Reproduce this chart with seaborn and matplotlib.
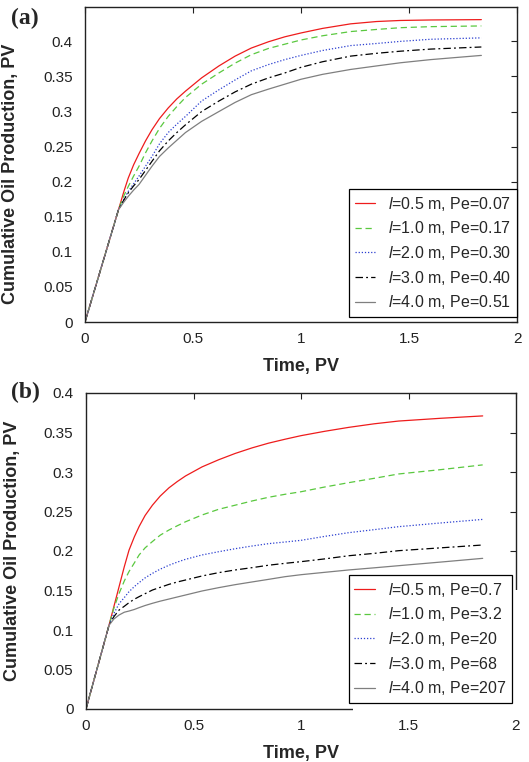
import matplotlib
matplotlib.use("Agg")
import matplotlib.pyplot as plt
from matplotlib.patches import Rectangle
import seaborn as sns
import pandas as pd
import numpy as np

# Data

time_a = [0, 0.155, 0.18, 0.2, 0.225, 0.25, 0.28, 0.31, 0.345, 0.385, 0.425, 0.465, 0.54, 0.62,
          0.695, 0.77, 0.85, 0.925, 1.0, 1.1, 1.23, 1.35, 1.46, 1.6, 1.835]
oil_a = {
    "red":   [0, 0.16, 0.186, 0.205, 0.224, 0.24, 0.258, 0.274, 0.29, 0.305, 0.318, 0.329, 0.348, 0.365,
              0.379, 0.3905, 0.3995, 0.4065, 0.412, 0.4185, 0.425, 0.4283, 0.4298, 0.4305, 0.431],
    "green": [0, 0.16, 0.18, 0.193, 0.208, 0.222, 0.241, 0.258, 0.276, 0.293, 0.307, 0.320, 0.339, 0.355,
              0.369, 0.381, 0.390, 0.396, 0.402, 0.408, 0.414, 0.417, 0.4195, 0.421, 0.422],
    "blue":  [0, 0.16, 0.175, 0.186, 0.197, 0.208, 0.222, 0.236, 0.254, 0.270, 0.282, 0.293, 0.315, 0.331,
              0.345, 0.358, 0.367, 0.374, 0.380, 0.387, 0.394, 0.397, 0.400, 0.403, 0.405],
    "black": [0, 0.16, 0.174, 0.184, 0.194, 0.203, 0.216, 0.229, 0.244, 0.258, 0.270, 0.281, 0.300, 0.315,
              0.328, 0.339, 0.348, 0.355, 0.363, 0.371, 0.379, 0.383, 0.386, 0.389, 0.392],
    "gray":  [0, 0.16, 0.171, 0.179, 0.188, 0.196, 0.209, 0.222, 0.236, 0.248, 0.259, 0.270, 0.286, 0.300,
              0.313, 0.324, 0.332, 0.339, 0.346, 0.353, 0.360, 0.365, 0.3695, 0.374, 0.380],
}
labels_a = [r"$l$=0.5 m, Pe=0.07", r"$l$=1.0 m, Pe=0.17", r"$l$=2.0 m, Pe=0.30",
            r"$l$=3.0 m, Pe=0.40", r"$l$=4.0 m, Pe=0.51"]

time_b = [0, 0.107, 0.13, 0.154, 0.178, 0.2, 0.225, 0.247, 0.275, 0.309, 0.345, 0.386, 0.425, 0.463,
          0.54, 0.617, 0.694, 0.772, 0.849, 0.926, 1.0, 1.11, 1.222, 1.34, 1.454, 1.65, 1.845]
oil_b = {
    "red":   [0, 0.106, 0.13, 0.155, 0.180, 0.201, 0.218, 0.231, 0.245, 0.258, 0.2695, 0.280, 0.288, 0.295,
              0.3065, 0.3155, 0.3235, 0.3305, 0.3365, 0.3415, 0.346, 0.3515, 0.3565, 0.361, 0.3645, 0.368, 0.371],
    "green": [0, 0.106, 0.128, 0.1464, 0.162, 0.174, 0.185, 0.195, 0.204, 0.212, 0.220, 0.2266, 0.232, 0.237,
              0.2456, 0.2528, 0.258, 0.2633, 0.268, 0.2718, 0.275, 0.281, 0.2865, 0.292, 0.2975, 0.303, 0.309],
    "blue":  [0, 0.106, 0.121, 0.1334, 0.141, 0.1485, 0.155, 0.160, 0.166, 0.1717, 0.177, 0.182, 0.186, 0.1895,
              0.195, 0.1991, 0.2029, 0.2063, 0.2093, 0.2114, 0.2135, 0.2185, 0.2232, 0.227, 0.2308, 0.2355, 0.240],
    "black": [0, 0.106, 0.117, 0.1253, 0.130, 0.1346, 0.139, 0.1422, 0.146, 0.1506, 0.154, 0.1578, 0.1608, 0.1633,
              0.1684, 0.1726, 0.176, 0.1789, 0.182, 0.1844, 0.1865, 0.190, 0.194, 0.197, 0.2004, 0.204, 0.2076],
    "gray":  [0, 0.106, 0.114, 0.119, 0.1225, 0.124, 0.126, 0.1283, 0.131, 0.1338, 0.1365, 0.1392, 0.1418, 0.1443,
              0.1494, 0.1536, 0.1574, 0.1608, 0.1641, 0.1675, 0.170, 0.173, 0.176, 0.1787, 0.1814, 0.186, 0.1907],
}
labels_b = [r"$l$=0.5 m, Pe=0.7", r"$l$=1.0 m, Pe=3.2", r"$l$=2.0 m, Pe=20",
            r"$l$=3.0 m, Pe=68", r"$l$=4.0 m, Pe=207"]

colors = {"red": "#ee1c1c", "green": "#5ac83f", "blue": "#2b3fd0", "black": "#000000", "gray": "#7f7f7f"}
styles = {"red": "-", "green": (0, (5, 3)), "blue": (0, (1, 1.5)), "black": (0, (6, 2.5, 1.5, 2.5)), "gray": "-"}

sns.set_style("white")
plt.rcParams["font.family"] = ["Liberation Sans", "DejaVu Sans"]
plt.rcParams["mathtext.fontset"] = "custom"
plt.rcParams["mathtext.it"] = "Liberation Sans:italic"
plt.rcParams["mathtext.rm"] = "Liberation Sans"

fig = plt.figure(figsize=(5.29, 7.62), dpi=100)
ax_a = fig.add_axes([85 / 529, 1 - 322 / 762, 432 / 529, 315 / 762])
ax_b = fig.add_axes([86 / 529, 1 - 709 / 762, 430 / 529, 316 / 762])


def draw_panel(ax, t, oil, labels, ylim, yticks, legend_anchor, ylabel_y):
    for key, lab in zip(oil, labels):
        df = pd.DataFrame({"Time": t, "Oil": oil[key]})
        sns.lineplot(data=df, x="Time", y="Oil", ax=ax, color=colors[key], linestyle=styles[key],
                     linewidth=0.9, label=lab, estimator=None, sort=False)
    ax.set_xlim(0, 2)
    ax.set_ylim(*ylim)
    ax.set_xticks([0, 0.5, 1, 1.5, 2])
    ax.set_xticklabels(["0", "0.5", "1", "1.5", "2"])
    ax.set_yticks(yticks)
    ax.set_yticklabels([f"{v:g}" for v in yticks])
    ax.tick_params(direction="in", length=4, width=0.8, labelsize=11, top=True, right=True,
                   colors="#222222")
    ax.tick_params(axis="x", pad=7)
    ax.tick_params(axis="y", pad=9)
    for sp in ax.spines.values():
        sp.set_linewidth(1.0)
        sp.set_color("#222222")
    ax.set_xlabel("Time, PV", fontsize=13, fontweight="bold", labelpad=9)
    ax.set_ylabel("Cumulative Oil Production, PV", fontsize=13, fontweight="bold")
    ax.yaxis.set_label_coords(-0.152, ylabel_y)
    leg = ax.legend(loc="lower right", bbox_to_anchor=legend_anchor, borderaxespad=0, fontsize=11.5,
                    frameon=True, fancybox=False, framealpha=1, edgecolor="black",
                    handlelength=1.3, handletextpad=0.8, labelspacing=0.42, borderpad=0.35)
    leg.get_frame().set_linewidth(0.9)
    return leg


draw_panel(ax_a, time_a, oil_a, labels_a, (0, 0.449), np.arange(0, 0.41, 0.05).round(2), (1.0, 0.016), 0.47)
draw_panel(ax_b, time_b, oil_b, labels_b, (0, 0.4), np.arange(0, 0.41, 0.05).round(2), (0.991, 0.019), 0.5)

# white backing behind legend (b) hides the spine corner, as in the original
ax_b.add_patch(Rectangle((0.62, -0.012), 0.395, 0.39, transform=ax_b.transAxes, facecolor="white",
                         edgecolor="none", clip_on=False, zorder=2.6))

fig.text(11 / 529, 1 - 18 / 762, "(a)", family="Liberation Serif", fontweight="bold", fontsize=17, va="center")
fig.text(11 / 529, 1 - 392 / 762, "(b)", family="Liberation Serif", fontweight="bold", fontsize=17, va="center")

fig.savefig("out.png", dpi=100)
